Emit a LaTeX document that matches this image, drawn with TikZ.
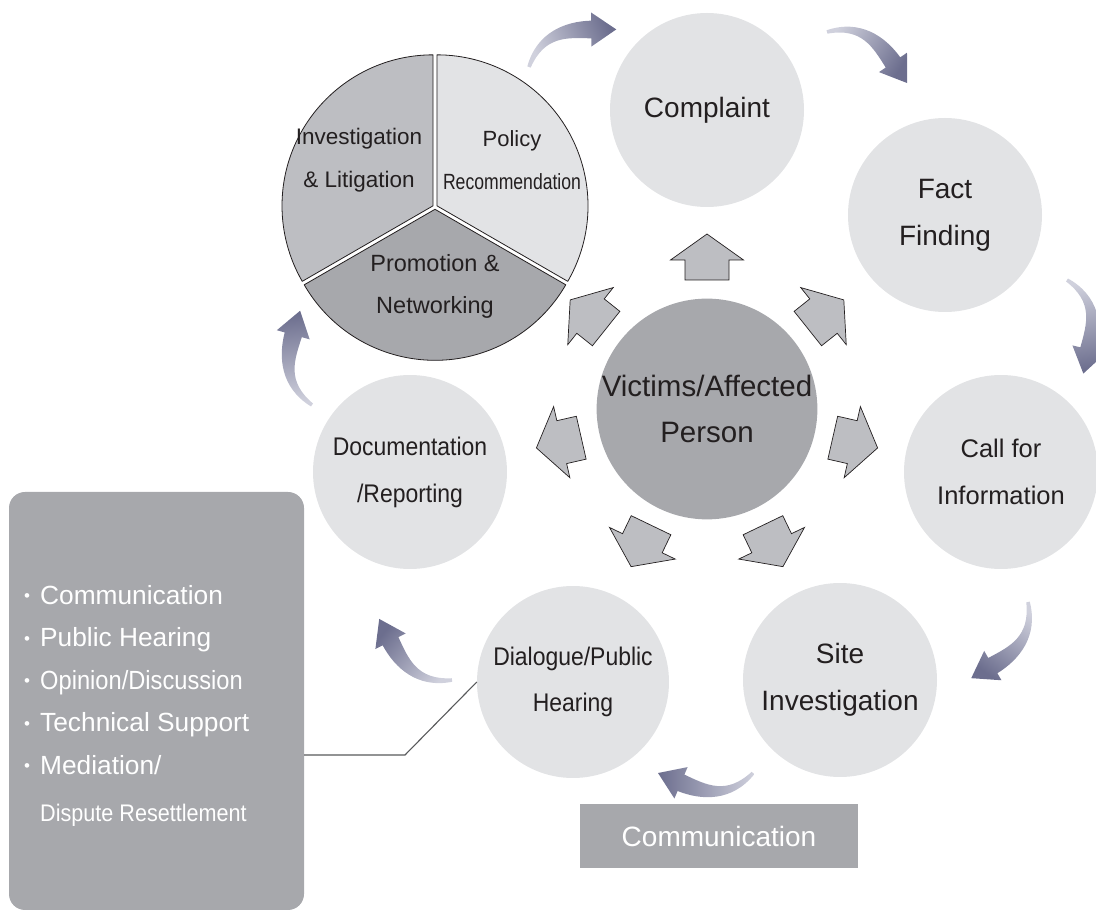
\documentclass[tikz,border=0pt]{standalone}
\usepackage{fontspec}
\setmainfont{Liberation Sans}
\newfontfamily\condfont[FakeStretch=0.9]{Liberation Sans}
\newfontfamily\narrowfont[FakeStretch=0.8]{Liberation Sans}
\usetikzlibrary{calc}

\definecolor{ringgray}{RGB}{226,227,229}
\definecolor{hubgray}{RGB}{167,168,172}
\definecolor{midgray}{RGB}{189,190,194}
\definecolor{inkgray}{RGB}{35,31,32}
\definecolor{tailblue}{RGB}{208,209,221}
\definecolor{headblue}{RGB}{108,110,142}
\definecolor{linkgray}{RGB}{88,89,91}

\newcommand{\listdot}{\makebox[16pt][l]{\raisebox{2.5pt}{\fontsize{17}{17}\selectfont\textbullet}}}

\begin{document}
\begin{tikzpicture}[x=1pt, y=1pt,
    station/.style={circle, fill=ringgray, minimum size=194pt, inner sep=0pt, align=center,
      text=inkgray, font=\fontsize{28}{47}\selectfont},
    sector/.style={draw=inkgray, line width=0.8pt, line join=round},
    pietext/.style={align=center, inner sep=0pt, text=inkgray, font=\fontsize{23}{43}\selectfont},
    pushout/.style={fill=midgray, draw=inkgray, line width=0.7pt},
    linkline/.style={draw=linkgray, line width=1.1pt},
    pics/bendarrow/.style={code={
      \pgfmathsetmacro\shadeang{#1+90}
      \shade[rotate=#1, left color=tailblue, right color=headblue, shading angle=\shadeang]
        (-1.3,1.2) .. controls (21,29) and (51.5,27.5) .. (75.4,18)
        -- (78.6,25.5) -- (95,0) -- (65.4,-5.9) -- (68.6,1.6)
        .. controls (46.5,12) and (26.8,22.5) .. (1.3,-1.2) -- cycle;
    }}]

  \useasboundingbox (0,0) rectangle (1096,911);

  % Steps round the ring
  \node[station] (complaint) at (707,801) {Complaint};
  \node[station] (fact) at (945,696) {Fact\\Finding};
  \node[station, font=\fontsize{25.5}{47}\selectfont] (call) at (1001,439) {Call for\\Information};
  \node[station] (site) at (840,231) {Site\\Investigation};
  \node[station, minimum size=192pt, font=\condfont\fontsize{25.5}{46}\selectfont] (dialogue) at (573,229) {Dialogue/Public\\Hearing};
  \node[station, font=\condfont\fontsize{25.5}{47}\selectfont] (docs) at (410,439) {Documentation\\/Reporting};

	% Centre
  \node[station, fill=hubgray, minimum size=216pt, font=\fontsize{29.5}{46}\selectfont] (hub) at (707,502) {Victims/Affected\\Person};

  % Pie of outcomes
  \coordinate (pie) at (435,704);
  \filldraw[sector, fill=midgray] ($(pie)+(150:2.3)$) ++(90:151) arc[start angle=90, end angle=210, radius=151] -- ($(pie)+(150:2.3)$) -- cycle;
  \filldraw[sector, fill=ringgray] ($(pie)+(30:2.3)$) ++(-30:151) arc[start angle=-30, end angle=90, radius=151] -- ($(pie)+(30:2.3)$) -- cycle;
  \filldraw[sector, fill=hubgray] ($(pie)+(270:2.3)$) ++(210:151) arc[start angle=210, end angle=330, radius=151] -- ($(pie)+(270:2.3)$) -- cycle;
  \node[pietext, font=\fontsize{22.5}{43}\selectfont] (litig) at (359,751) {Investigation\\\& Litigation};
  \node[pietext, font=\fontsize{22}{43}\selectfont] (policy) at (512,751) {Policy\\{\narrowfont Recommendation}};
  \node[pietext, font=\fontsize{23.5}{42}\selectfont] (promo) at (435,625) {Promotion \&\\Networking};

  % Arrows out of the centre
  \foreach \k in {0,...,6}{
    \pgfmathsetmacro\ang{90-\k*360/7}
    \draw[pushout, shift={(hub.center)}, rotate=\ang]
      (129,-22) -- (149,-22) -- (149,-36.5) -- (175,0) -- (149,36.5) -- (149,22) -- (129,22) -- cycle;
  }

  % Bent arrows between steps
  \pic at (529,844) {bendarrow=23.3};
  \pic at (827,879) {bendarrow=-32.5};
  \pic at (1067,631) {bendarrow=-80.1};
  \pic at (1028,309) {bendarrow=-126.7};
  \pic at (753,138) {bendarrow=180};
  \pic at (452,231) {bendarrow=140};
  \pic at (312,506) {bendarrow=97.2};

  % Communication box
  \node[fill=hubgray, minimum width=278pt, minimum height=64pt, text=white,
    font=\fontsize{28}{30}\selectfont] (talk) at (719,75) {Communication};

  % Hearing details
  \node[fill=hubgray, rounded corners=16pt, minimum width=295pt, minimum height=418pt] (tasks) at (156.5,210) {};
  \node[anchor=west, align=left, inner sep=0pt, text=white, font=\fontsize{26.3}{42.5}\selectfont] (tasklist) at (24,205)
    {\listdot Communication\\
     \listdot Public Hearing\\
     \listdot {\condfont Opinion/Discussion}\\
     \listdot Technical Support\\
     \listdot Mediation/\\[5pt]
     \hphantom{\listdot}{\condfont\fontsize{24}{30}\selectfont Dispute Resettlement}};

  \coordinate (elbow) at (405,156);
  \draw[linkline] (dialogue.west) -- (elbow) -- (elbow -| tasks.east);

\end{tikzpicture}
\end{document}
